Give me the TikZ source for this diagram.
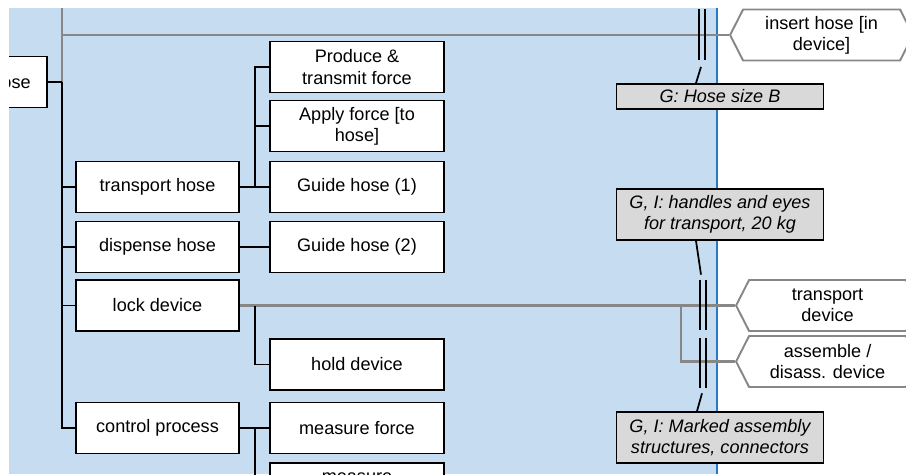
\documentclass[tikz,border=0pt]{standalone}
\usepackage{fontspec}
\setmainfont{Liberation Sans}
\usetikzlibrary{shapes, arrows.meta, positioning, calc}
\definecolor{laneblue}{RGB}{198, 220, 240}
\definecolor{laneedge}{RGB}{40, 120, 195}
\definecolor{flowgray}{RGB}{135, 135, 135}
\definecolor{notegray}{RGB}{217, 217, 217}

\begin{document}
\begin{tikzpicture}[x=0.02cm, y=-0.02cm,
  funcbox/.style={draw, line width=1pt, fill=white, font=\fontsize{10.3}{12}\selectfont, align=center, minimum height=1.02cm, inner sep=2pt},
  subfunc/.style={funcbox, minimum width=3.26cm},
  leaffunc/.style={funcbox, minimum width=3.48cm},
  notebox/.style={draw, line width=1pt, fill=notegray, font=\fontsize{10.3}{12}\selectfont\itshape, align=center, minimum width=4.14cm, inner sep=2pt},
  flowhex/.style={draw=flowgray, line width=1.1pt, fill=white, shape=signal, signal to=west and east, signal pointer angle=126, font=\fontsize{10.3}{12}\selectfont, align=center, minimum width=3.66cm, minimum height=1.02cm, anchor=west},
  conn/.style={line width=1pt},
  gconn/.style={draw=flowgray, line width=1.25pt},
  ifbar/.style={minimum width=0.12cm, minimum height=1cm, inner sep=0pt},
  barline/.style={line width=1.1pt}]

  \useasboundingbox (0,0) rectangle (906,474);
  \clip (9,8) rectangle (906,474);

  % Lane
  \fill[laneblue] (9,8) rectangle (717,474);
  \draw[laneedge, line width=1.1pt] (717,8) -- (717,474);

  % Level 1 (cut off)
  \node[subfunc, anchor=east, text width=2.6cm, align=right] (hose) at (48,82) {hose};

  % Level 2
  \node[subfunc] (trans) at (157.5,187) {transport hose};
  \node[subfunc] (disp) at (157.5,247) {dispense hose};
  \node[subfunc] (lock) at (157.5,305.5) {lock device};
  \node[subfunc] (ctrl) at (157.5,428) {control process};

  % Level 3
  \node[leaffunc] (prod) at (357,67) {Produce \&\\transmit force};
  \node[leaffunc] (apply) at (357,126) {Apply force [to\\hose]};
  \node[leaffunc] (guide1) at (357,187) {Guide hose (1)};
  \node[leaffunc] (guide2) at (357,247) {Guide hose (2)};
  \node[leaffunc] (hold) at (357,364.5) {hold device};
  \node[leaffunc] (meas) at (357,428) {measure force};
  \node[leaffunc, anchor=north] (meas2) at (357,462) {measure\\\mbox{}};

  % Neighbour functions
  \node[flowhex] (ins) at (729,35) {insert hose [in\\device]};
  \node[flowhex] (tdev) at (735,305.5) {transport\\device};
  \node[flowhex] (adev) at (735,361.5) {assemble /\\disass. device};

  % Tree connectors
  \coordinate (busa) at (62,82);
  \coordinate (gtop) at (62,8);
  \coordinate (gsplit) at (62,35);
  \draw[gconn] (gtop) -- (busa);
  \draw[gconn] (gsplit) -- (ins.west);
  \draw[conn] (hose.east) -- (busa);
  \foreach \n in {trans,disp,lock,ctrl}
    \draw[conn] (busa) |- (\n.west);

  \coordinate (busb) at (255,187);
  \draw[conn] (trans.east) -- (guide1.west);
  \foreach \n in {prod,apply}
    \draw[conn] (busb) |- (\n.west);
  \draw[conn] (disp.east) -- (guide2.west);

  \coordinate (busc) at (255,305.5);
  \coordinate (gsplitb) at (681,305.5);
  \draw[gconn] (lock.east) -- (tdev.west);
  \draw[gconn] (gsplitb) |- (adev.west);
  \draw[conn] (busc) |- (hold.west);

  \coordinate (busd) at (255,428);
  \draw[conn] (ctrl.east) -- (meas.west);
  \draw[conn] (busd) |- (meas2.west);

  % Interface marks
  \node[ifbar] (bara) at (702,34.5) {};
  \node[ifbar] (barb) at (703,305) {};
  \node[ifbar] (barc) at (703,363) {};
  \foreach \b in {bara,barb,barc} {
    \draw[barline] (\b.north west) -- (\b.south west);
    \draw[barline] (\b.north east) -- (\b.south east);
  }

  % Requirements
  \node[notebox, minimum height=0.5cm] (hsize) at (720,96.5) {G: Hose size B};
  \node[notebox, minimum height=1.02cm] (handles) at (720,214.5) {G, I: handles and eyes\\for transport, 20 kg};
  \node[notebox, minimum height=1.02cm] (marks) at (720,437.5) {G, I: Marked assembly\\structures, connectors};
  \draw[conn] ($(bara.south)+(-1,7)$) -- ($(hsize.north)+(-24,0)$);
  \draw[conn] ($(handles.south)+(-24,0)$) -- ($(barb.north)+(-2,-5)$);
  \draw[conn] ($(barc.south)+(-1,5)$) -- ($(marks.north)+(-23,0)$);
\end{tikzpicture}
\end{document}
